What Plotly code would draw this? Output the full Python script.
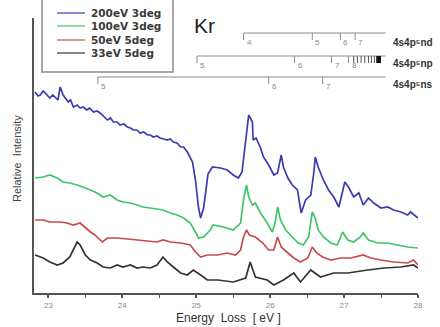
import plotly.graph_objects as go

# ---------------- data (energy loss in eV, relative intensity in arbitrary units) ----------------
e_200 = [22.82, 22.86, 22.89, 22.93, 22.96, 23.02, 23.06, 23.09, 23.13, 23.16, 23.20, 23.27, 23.30, 23.34,
         23.39, 23.43, 23.47, 23.52, 23.56, 23.61, 23.66, 23.70, 23.75, 23.80, 23.84, 23.88, 23.93, 23.97,
         24.02, 24.07, 24.11, 24.15, 24.20, 24.24, 24.29, 24.34, 24.38, 24.42, 24.47, 24.51, 24.56, 24.61,
         24.65, 24.69, 24.74, 24.79, 24.83, 24.88, 24.95, 24.99,
         25.03, 25.06, 25.10, 25.16, 25.22, 25.33, 25.42, 25.50, 25.57, 25.62, 25.67, 25.71, 25.76, 25.77,
         25.81, 25.87, 25.91, 25.98, 26.05, 26.10, 26.15, 26.18, 26.24, 26.30, 26.37, 26.42, 26.48, 26.55,
         26.59, 26.61, 26.65, 26.72, 26.79, 26.86, 26.93, 26.98, 27.01, 27.06, 27.13, 27.20, 27.26, 27.33,
         27.40, 27.50, 27.59, 27.67, 27.77, 27.86, 27.90, 28.00]
i_200 = [201, 197, 198, 202, 200, 195, 198, 196, 193, 206, 198, 191, 193, 186,
         188, 185, 186, 183, 185, 181, 182, 180, 176, 173, 175, 171, 171, 168,
         169, 166, 165, 163, 163, 160, 161, 158, 158, 156, 157, 155, 154, 153,
         154, 151, 150, 146, 146, 141, 131, 113,
         86, 75, 85, 119, 126, 125, 123, 118, 115, 121, 153, 178, 171, 153,
         155, 145, 136, 128, 118, 120, 138, 126, 115, 108, 103, 80, 93, 98,
         120, 136, 126, 113, 103, 96, 86, 100, 111, 106, 96, 100, 88, 95,
         90, 85, 86, 83, 81, 78, 81, 75]

e_100 = [22.82, 22.93, 23.02, 23.12, 23.20, 23.29, 23.39, 23.47, 23.57, 23.66, 23.74, 23.84, 23.93, 24.01,
         24.11, 24.20, 24.28, 24.38, 24.47, 24.55, 24.65, 24.74, 24.83, 24.92, 24.99, 25.03, 25.10, 25.19,
         25.23, 25.37, 25.50, 25.60, 25.64, 25.68, 25.71, 25.76, 25.80, 25.87, 25.96, 26.03, 26.07, 26.10,
         26.14, 26.21, 26.30, 26.38, 26.45, 26.52, 26.57, 26.61, 26.65, 26.72, 26.82, 26.91, 26.98, 27.05,
         27.13, 27.22, 27.26, 27.33, 27.46, 27.59, 27.72, 27.86, 28.00]
i_100 = [115, 116, 118, 115, 111, 110, 108, 106, 103, 100, 96, 98, 93, 91,
         90, 88, 86, 85, 84, 83, 80, 78, 75, 70, 61, 55, 56, 63,
         68, 66, 63, 70, 93, 108, 96, 88, 90, 80, 70, 61, 71, 86,
         73, 63, 56, 50, 48, 56, 81, 75, 63, 56, 50, 48, 61, 53,
         51, 56, 60, 53, 50, 50, 48, 46, 45]

e_50 = [22.82, 22.93, 23.02, 23.16, 23.25, 23.34, 23.43, 23.50, 23.57, 23.63, 23.73, 23.80, 23.93, 24.07,
        24.20, 24.34, 24.47, 24.55, 24.65, 24.79, 24.92, 24.99, 25.06, 25.15, 25.29, 25.42, 25.53, 25.60,
        25.64, 25.68, 25.72, 25.80, 25.90, 25.98, 26.05, 26.10, 26.15, 26.24, 26.32, 26.41, 26.51, 26.57,
        26.63, 26.71, 26.82, 26.95, 27.09, 27.26, 27.36, 27.50, 27.67, 27.86, 27.94, 28.00]
i_50 = [73, 73, 71, 71, 70, 68, 70, 65, 61, 58, 51, 55, 55, 54,
        53, 52, 51, 53, 51, 50, 48, 41, 36, 38, 38, 40, 38, 43,
        56, 63, 58, 56, 50, 43, 43, 56, 46, 40, 35, 31, 35, 46,
        40, 36, 33, 35, 35, 38, 35, 33, 31, 30, 33, 28]

e_33 = [22.82, 22.93, 23.02, 23.12, 23.20, 23.29, 23.39, 23.43, 23.50, 23.57, 23.66, 23.74, 23.84, 23.93,
        24.01, 24.11, 24.20, 24.28, 24.38, 24.47, 24.55, 24.61, 24.69, 24.79, 24.88, 24.96, 25.06, 25.15,
        25.29, 25.50, 25.67, 25.73, 25.80, 25.96, 26.05, 26.18, 26.32, 26.41, 26.55, 26.68, 26.86, 27.05,
        27.32, 27.54, 27.77, 27.94, 28.00]
i_33 = [38, 35, 31, 28, 30, 36, 51, 48, 38, 33, 30, 26, 25, 28,
        26, 28, 25, 26, 25, 28, 36, 31, 26, 20, 18, 23, 18, 13,
        13, 11, 15, 31, 16, 13, 8, 13, 20, 11, 23, 16, 20, 20,
        23, 25, 26, 28, 25]

series_names = ["200eV 3deg", "100eV 3deg", "50eV 5deg", "33eV 5deg"]
series_x = [e_200, e_100, e_50, e_33]
series_y = [i_200, i_100, i_50, i_33]
series_colors = ["#3b3bb0", "#3fc466", "#c94a4a", "#333333"]

# Rydberg series levels (eV) with their n labels
nd_levels = [25.64, 26.57, 26.95, 27.15]
nd_labels = ["4", "5", "6", "7"]
np_levels = [25.01, 26.33, 26.83, 27.06]
np_labels = ["5", "6", "7", "8"]
np_limit_ticks = [27.13, 27.18, 27.23, 27.28, 27.33, 27.37, 27.41, 27.44, 27.46, 27.48]
ns_levels = [23.67, 25.98, 26.71]
ns_labels = ["5", "6", "7"]
series_limit = 27.56
ryd_names = ["4s4p\u2075nd", "4s4p\u2075np", "4s4p\u2075ns"]

x_ticks = [23, 24, 25, 26, 27, 28]

# ---------------- layout helpers (pixel -> paper positions for decorations) ----------------
L, R, T, B = 34, 22, 18, 34
W, H = 440, 327
PW, PH = W - L - R, H - T - B


def px(xp):
    return (xp - L) / PW


def py(yp):
    return (H - B - yp) / PH


fig = go.Figure()
for name, xs, ys, col in zip(series_names, series_x, series_y, series_colors):
    fig.add_trace(go.Scatter(x=xs, y=ys, mode="lines", name=name,
                             line=dict(color=col, width=1.7), showlegend=False))

shapes = []
annotations = []

# manual legend
shapes.append(dict(type="rect", xref="paper", yref="paper", x0=px(42), x1=px(173), y0=py(72), y1=py(-3),
                   line=dict(color="#8a8a8a", width=1.5), fillcolor="white", layer="above"))
rows = [13, 26, 40, 53]
for name, col, r in zip(series_names, series_colors, rows):
    shapes.append(dict(type="line", xref="paper", yref="paper", x0=px(57), x1=px(85), y0=py(r), y1=py(r),
                       line=dict(color=col, width=1.2), layer="above"))
    annotations.append(dict(xref="paper", yref="paper", x=px(89), y=py(r), text=name, showarrow=False,
                            xanchor="left", yanchor="middle",
                            font=dict(family="DejaVu Sans", size=10.5, color="#3a3a3a", weight="bold")))

# Kr label
annotations.append(dict(xref="paper", yref="paper", x=px(192), y=py(26), text="Kr", showarrow=False,
                        xanchor="left", yanchor="middle",
                        font=dict(family="Liberation Sans, Arial", size=21, color="#222222")))

# Rydberg series bars
ryd_rows = [(nd_levels, nd_labels, 33, ryd_names[0], 42),
            (np_levels, np_labels, 56, ryd_names[1], 63),
            (ns_levels, ns_labels, 77, ryd_names[2], 84)]
for levels, labels, ly, rname, ty in ryd_rows:
    shapes.append(dict(type="line", xref="x", yref="paper", x0=levels[0], x1=series_limit,
                       y0=py(ly), y1=py(ly), line=dict(color="#8c8c8c", width=1.2)))
    for lv, lb in zip(levels, labels):
        shapes.append(dict(type="line", xref="x", yref="paper", x0=lv, x1=lv, y0=py(ly), y1=py(ly + 7),
                           line=dict(color="#8c8c8c", width=1)))
        annotations.append(dict(xref="x", yref="paper", x=lv, y=py(ly + 9), text=lb, showarrow=False,
                                xanchor="left", yanchor="middle", xshift=1,
                                font=dict(family="Liberation Sans, Arial", size=8, color="#888888")))
    annotations.append(dict(xref="paper", yref="paper", x=px(391), y=py(ty), text=rname, showarrow=False,
                            xanchor="left", yanchor="middle",
                            font=dict(family="Liberation Sans, DejaVu Sans, Arial", size=10, color="#333333",
                                      weight="bold")))
for lv in np_limit_ticks:
    shapes.append(dict(type="line", xref="x", yref="paper", x0=lv, x1=lv, y0=py(56), y1=py(63),
                       line=dict(color="#555555", width=1)))
shapes.append(dict(type="rect", xref="x", yref="paper", x0=np_limit_ticks[-3], x1=np_limit_ticks[-1] + 0.02,
                   y0=py(63), y1=py(56), line=dict(width=0), fillcolor="#111111"))

# axis titles
annotations.append(dict(xref="paper", yref="paper", x=px(228), y=py(318), text="Energy  Loss  [ eV ]",
                        showarrow=False, xanchor="center", yanchor="middle",
                        font=dict(family="Liberation Sans, Arial", size=12, color="#333333")))
annotations.append(dict(xref="paper", yref="paper", x=px(17), y=py(159), text="Relative  Intensity",
                        showarrow=False, xanchor="center", yanchor="middle", textangle=-90,
                        font=dict(family="Liberation Sans, Arial", size=11, color="#444444")))

fig.update_layout(
    width=W, height=H,
    margin=dict(l=L, r=R, t=T, b=B, pad=0),
    paper_bgcolor="white", plot_bgcolor="white",
    shapes=shapes, annotations=annotations,
    xaxis=dict(range=[22.806, 28.0], showgrid=False, zeroline=False, showline=True,
               linecolor="#555555", linewidth=2, ticks="outside", ticklen=3, tickwidth=1.5,
               tickcolor="#555555", tickvals=x_ticks, ticktext=[str(t) for t in x_ticks],
               ticklabelstandoff=0,
               tickfont=dict(family="Liberation Sans, Arial", size=8, color="#888888"),
               minor=dict(ticks="outside", ticklen=3, tickwidth=1, tickcolor="#555555", dtick=0.5, tick0=23)),
    yaxis=dict(range=[0, 275], showgrid=False, zeroline=False, showline=True,
               linecolor="#555555", linewidth=2, showticklabels=False, ticks=""),
)

fig.write_html("out.html")
